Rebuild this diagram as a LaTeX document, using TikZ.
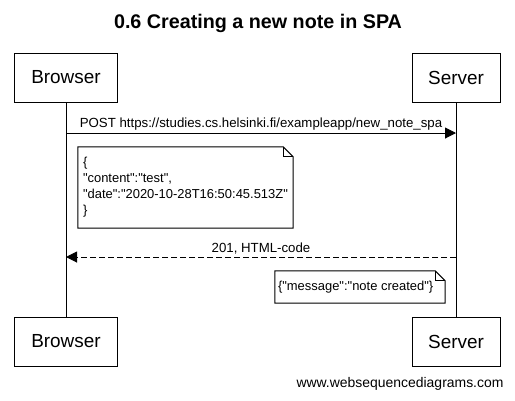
\documentclass[tikz,border=0pt]{standalone}
\usepackage{fontspec}
\setmainfont{Liberation Sans}[Ligatures=TeXOff]
\usetikzlibrary{calc,arrows.meta}

\tikzset{
	diagramtitle/.style={font=\fontsize{19.8}{22}\selectfont\bfseries, inner sep=0pt},
	actor/.style={draw, fill=white, line width=1bp, minimum height=49bp, inner sep=0pt, font=\fontsize{19}{22}\selectfont},
	lifeline/.style={line width=1bp},
	msg/.style={line width=1bp, -{Triangle[length=11bp,width=11bp]}},
	reply/.style={msg, dash pattern=on 6bp off 3bp},
	msglabel/.style={font=\fontsize{13.3}{16}\selectfont, inner sep=2bp},
	notetext/.style={align=left, font=\fontsize{13}{16}\selectfont, inner xsep=5bp, inner ysep=0pt},
	notebox/.style={draw, fill=white, line width=1bp},
	watermark/.style={font=\fontsize{14}{16}\selectfont, inner sep=0pt}
}
\def\foldnote(#1){\draw[notebox] (#1.north west) -- ($(#1.north east)+(-10,0)$) -- ($(#1.north east)+(0,10)$) -- (#1.south east) -- (#1.south west) -- cycle;
	\draw[line width=1bp] ($(#1.north east)+(-10,0)$) |- ($(#1.north east)+(0,10)$);}

\begin{document}
\begin{tikzpicture}[x=1bp,y=-1bp]
	%%%%% START %%%%%
	
	\useasboundingbox (0,0) rectangle (515,400);
	
	\node[diagramtitle] (title) at (258,23) {0.6 Creating a new note in SPA};
	
	\node[actor, minimum width=102bp] (browserTop) at (66,77.5) {Browser};
	\node[actor, minimum width=88bp] (serverTop) at (456,77.5) {Server};
	\node[actor, minimum width=102bp] (browserBot) at (66,341.5) {Browser};
	\node[actor, minimum width=88bp] (serverBot) at (456,341.5) {Server};
	
	\draw[lifeline] (browserTop.south) -- (browserBot.north);
	\draw[lifeline] (serverTop.south) -- (serverBot.north);
	
	\coordinate (postFrom) at (66,133);
	\coordinate (postTo) at (456,133);
	\draw[msg] (postFrom) -- node[above, msglabel] {POST https://studies.cs.helsinki.fi/exampleapp/new\_note\_spa} (postTo);
	
	\node[minimum width=215bp, minimum height=81bp, inner sep=0pt] (noteOne) at (185.5,187.5) {};
	\foldnote(noteOne)
	\node[notetext, anchor=west] (noteOneText) at (noteOne.west) {\{\\"content":"test",\\"date":"2020-10-28T16:50:45.513Z"\\\}};
	
	\coordinate (replyFrom) at (456,257);
	\coordinate (replyTo) at (66,257);
	\draw[reply] (replyFrom) -- node[above, msglabel] {201, HTML-code} (replyTo);
	
	\node[minimum width=170bp, minimum height=32bp, inner sep=0pt] (noteTwo) at (360,287) {};
	\foldnote(noteTwo)
	\node[notetext, anchor=west, inner xsep=3bp] (noteTwoText) at (noteTwo.west) {\{"message":"note created"\}};
	
	\node[watermark] (credit) at (400,384) {www.websequencediagrams.com};
	
	%%%%% END %%%%%
\end{tikzpicture}
\end{document}
